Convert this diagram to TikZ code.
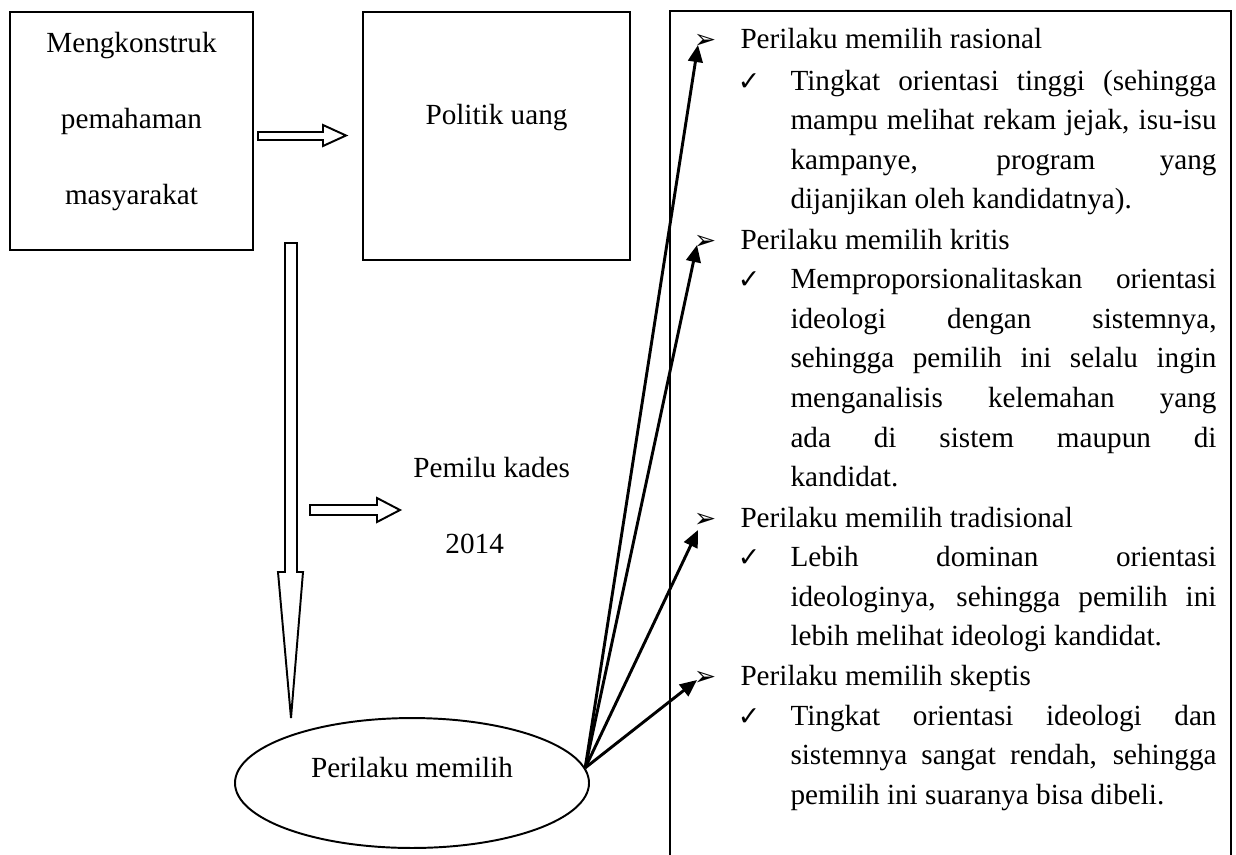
\documentclass[tikz,border=0pt]{standalone}
\usepackage{fontspec}
\setmainfont{Liberation Serif}
\newfontfamily\symfont{DejaVu Sans}
\usetikzlibrary{arrows.meta,shapes.geometric}
\hyphenpenalty=10000
\exhyphenpenalty=10000

\tikzstyle{box} = [draw, line width=0.8pt, inner sep=0pt]
\tikzstyle{txt} = [anchor=base, inner sep=0pt]
\tikzstyle{lefttxt} = [anchor=base west, inner sep=0pt]
\tikzstyle{item} = [anchor=base west, inner sep=0pt, text width=175.1pt, align=justify, font=\fontsize{12}{16.3}\selectfont]
\tikzstyle{bul} = [anchor=base, inner sep=0pt, font=\symfont\fontsize{11}{11}\selectfont]
\tikzstyle{tick} = [anchor=base, inner sep=0pt, font=\symfont\fontsize{11}{11}\selectfont]
\tikzstyle{conn} = [line width=1.2pt, -{Triangle[length=7pt,width=6pt]}]
\tikzstyle{blockarrow} = [draw, line width=0.8pt, fill=white]

\begin{document}
\begin{tikzpicture}[x=0.411pt, y=-0.411pt, every node/.style={font=\fontsize{12}{16.3}\selectfont}]
	\useasboundingbox (0,0) rectangle (1236,854);

	\node[box, minimum width=99.9pt, minimum height=97.8pt] (mk) at (131.5,131) {};
	\node[txt] (mk1) at (131.5,52) {Mengkonstruk};
	\node[txt] (mk2) at (131.5,128) {pemahaman};
	\node[txt] (mk3) at (131.5,204) {masyarakat};

	\node[box, minimum width=109.7pt, minimum height=101.9pt] (pu) at (496.5,136) {};
	\node[txt] (put) at (496.5,124) {Politik uang};

	\node[lefttxt] (pk) at (413,477) {Pemilu kades};
	\node[lefttxt] (th) at (445,553) {2014};

	\node[draw, ellipse, line width=0.8pt, minimum width=145.5pt, minimum height=53.4pt] (pm) at (412,783) {};
	\node[txt] (pmt) at (412,777) {Perilaku memilih};

	% block arrows
	\draw[blockarrow] (258,132) -- (323,132) -- (323,125) -- (346,135.5) -- (323,146) -- (323,140) -- (258,140) -- cycle;
	\draw[blockarrow] (310,505) -- (377,505) -- (377,498) -- (400,510) -- (377,522) -- (377,515) -- (310,515) -- cycle;
	\draw[blockarrow] (285,243) -- (297,243) -- (297,572) -- (303,572) -- (291,718) -- (278,572) -- (285,572) -- cycle;

	% right panel
	\node[box, minimum width=230.6pt, minimum height=357.2pt] (panel) at (950.5,445.5) {};

	\node[bul] (b1) at (705,48) {➢};
	\node[lefttxt] (h1) at (740,48) {Perilaku memilih rasional};
	\node[tick] (c1) at (749,90) {✓};
	\node[item] (i1) at (790,90) {Tingkat orientasi tinggi (sehingga\linebreak mampu melihat rekam jejak, isu-isu\linebreak kampanye, program yang\linebreak dijanjikan oleh kandidatnya).};

	\node[bul] (b2) at (705,249) {➢};
	\node[lefttxt] (h2) at (740,249) {Perilaku memilih kritis};
	\node[tick] (c2) at (749,288.5) {✓};
	\node[item] (i2) at (790,288.5) {Memproporsionalitaskan orientasi\linebreak ideologi dengan sistemnya,\linebreak sehingga pemilih ini selalu ingin\linebreak menganalisis kelemahan yang\linebreak ada di sistem maupun di\linebreak kandidat.};

	\node[bul] (b3) at (705,527) {➢};
	\node[lefttxt] (h3) at (740,527) {Perilaku memilih tradisional};
	\node[tick] (c3) at (749,566.4) {✓};
	\node[item] (i3) at (790,566.4) {Lebih dominan orientasi\linebreak ideologinya, sehingga pemilih ini\linebreak lebih melihat ideologi kandidat.};

	\node[bul] (b4) at (705,685.5) {➢};
	\node[lefttxt] (h4) at (740,685.5) {Perilaku memilih skeptis};
	\node[tick] (c4) at (749,725.2) {✓};
	\node[item] (i4) at (790,725.2) {Tingkat orientasi ideologi dan\linebreak sistemnya sangat rendah, sehingga\linebreak pemilih ini suaranya bisa dibeli.};

	\coordinate (t1) at (698,45);
	\coordinate (t2) at (697,245);
	\coordinate (t3) at (698,530);
	\coordinate (t4) at (697,680);

	\draw[conn] (pm.5) -- (t1);
	\draw[conn] (pm.5) -- (t2);
	\draw[conn] (pm.5) -- (t3);
	\draw[conn] (pm.5) -- (t4);
\end{tikzpicture}
\end{document}
